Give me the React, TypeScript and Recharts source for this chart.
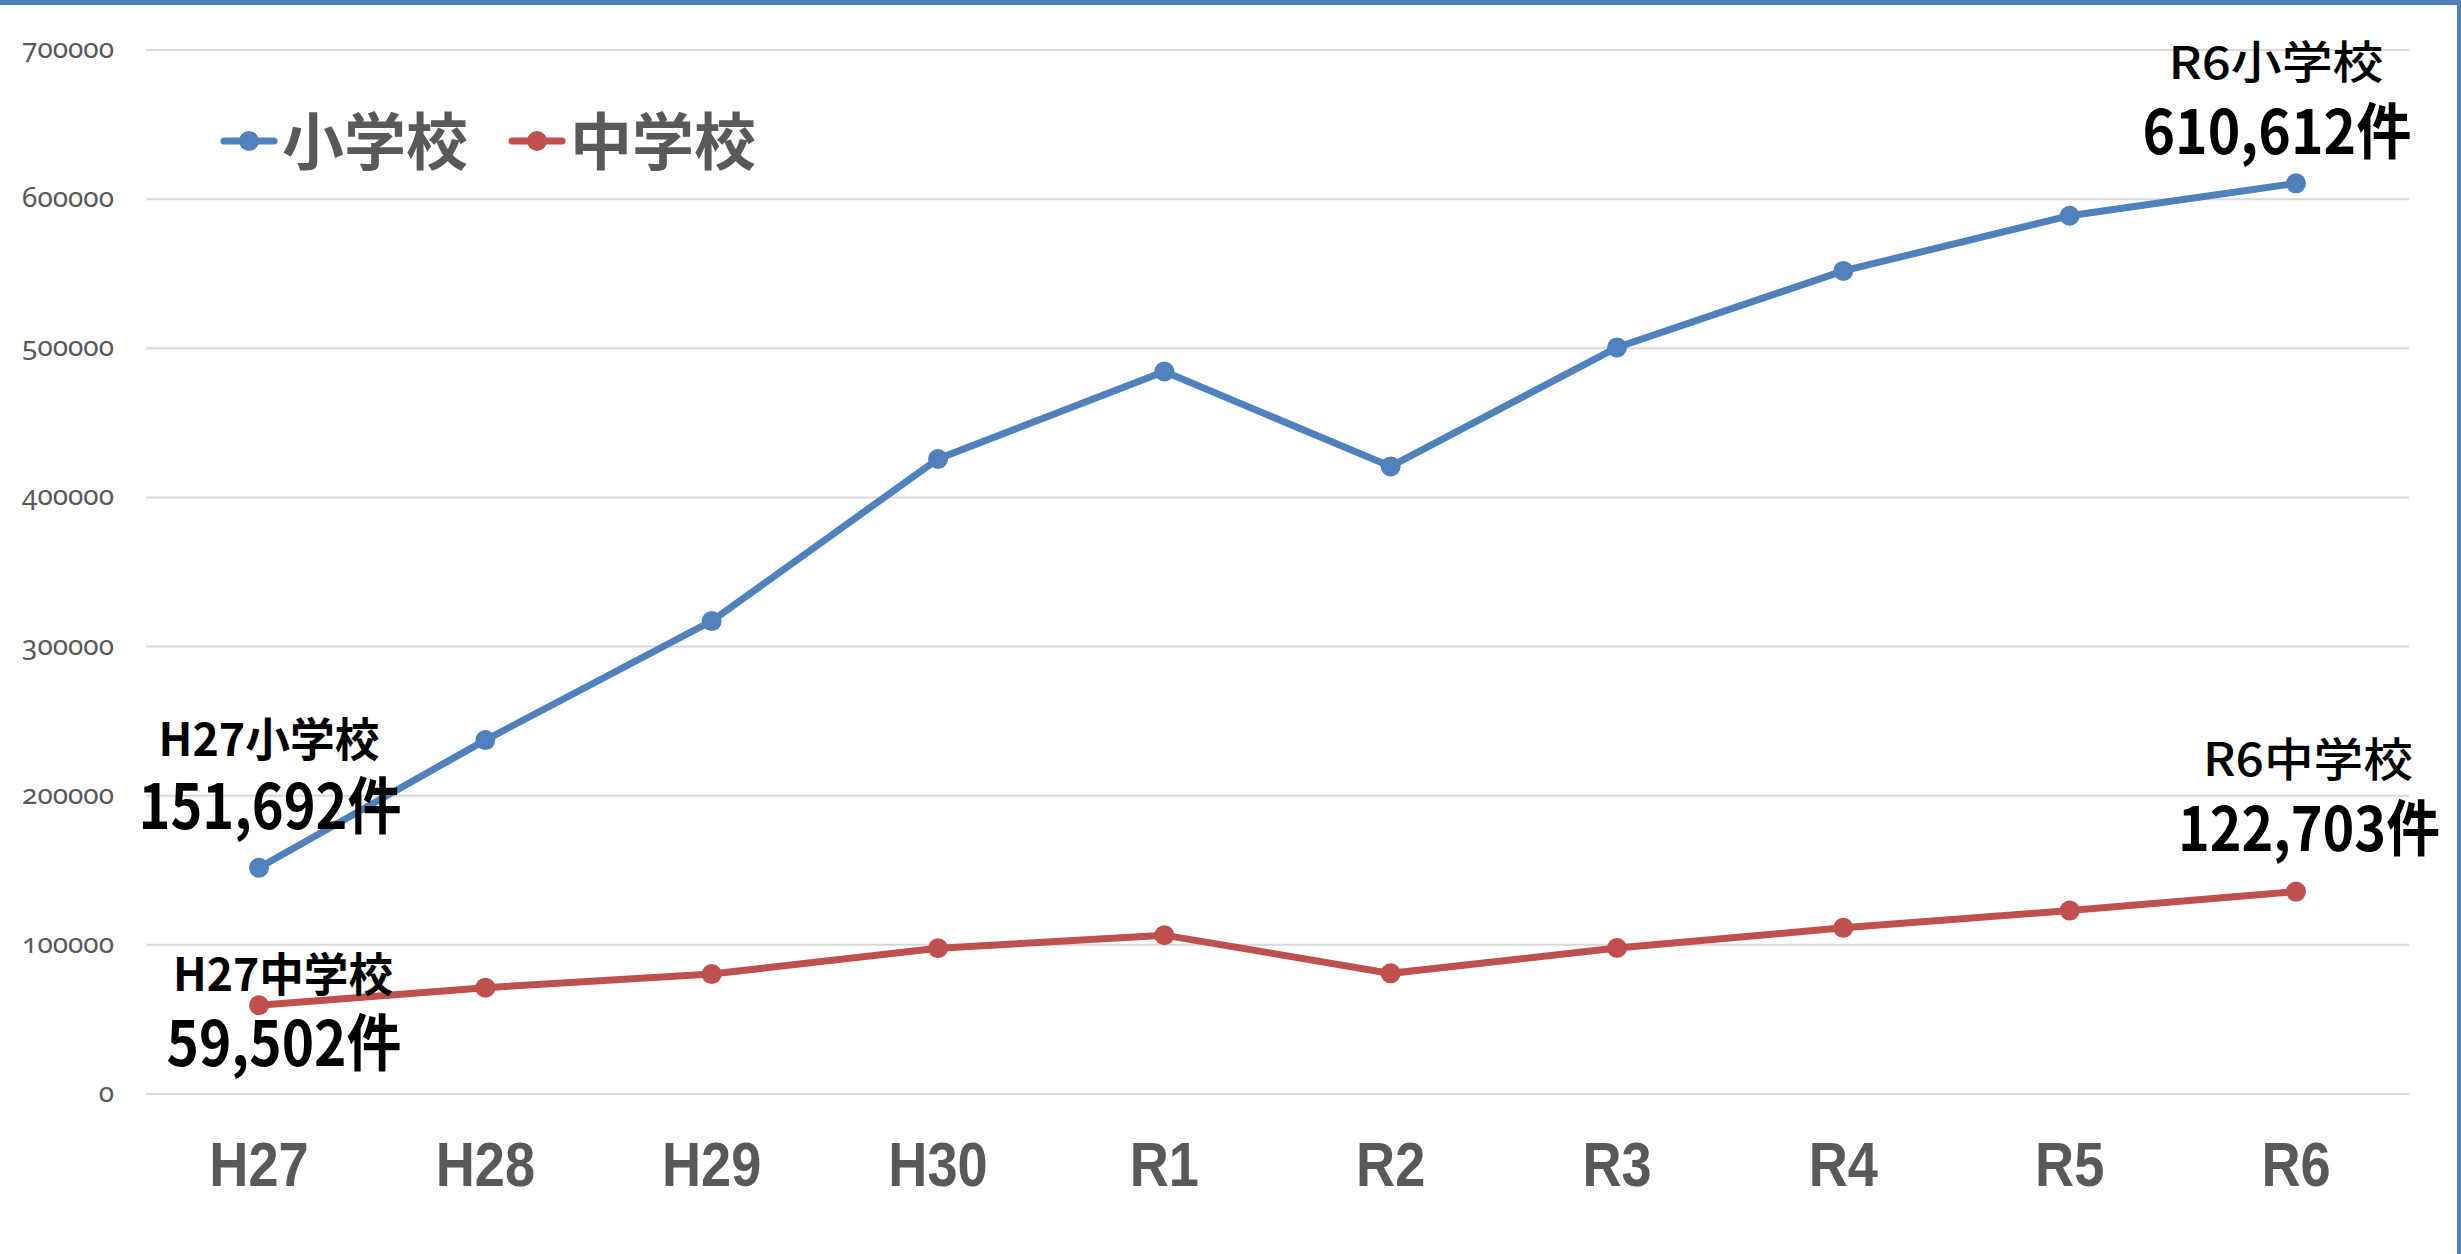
import React from "react";
import { CartesianGrid, LabelList, Legend, Line, LineChart, XAxis, YAxis } from "recharts";

const years = ["H27", "H28", "H29", "H30", "R1", "R2", "R3", "R4", "R5", "R6"];
const elementary = [151692, 237300, 317100, 425800, 484400, 420800, 500600, 551900, 588900, 610612];
const juniorHigh = [59502, 71300, 80400, 97700, 106500, 80900, 97900, 111400, 123000, 135700];
const yTicks = [0, 100000, 200000, 300000, 400000, 500000, 600000, 700000];
const seriesNames = ["小学校", "中学校"];

const elementaryNotes = { first: ["H27小学校", "151,692件"], last: ["R6小学校", "610,612件"] };
const juniorNotes = { first: ["H27中学校", "59,502件"], last: ["R6中学校", "122,703件"] };

const BLUE = "#4F81BD";
const RED = "#C0504D";
const GRAY = "#595959";
const CJK = '"Noto Sans CJK JP", "Noto Sans", sans-serif';

const data = years.map((year, i) => ({ year, elementary: elementary[i], junior: juniorHigh[i] }));

function YTick({ x, y, payload }: any) {
  return (
    <text x={x} y={y} dy={8} textAnchor="end" fill={GRAY} fontSize={28} fontFamily='"Noto Sans", sans-serif'
      style={{ fontVariantNumeric: "oldstyle-nums" }}>
      {payload.value}
    </text>
  );
}

function XTick({ x, y, payload }: any) {
  return (
    <text transform={`translate(${x},${y + 92}) scale(0.86,1)`} textAnchor="middle" fill={GRAY}
      fontSize={63} fontWeight={700} fontFamily='"Liberation Sans", Arial, sans-serif'>
      {payload.value}
    </text>
  );
}

// two-line note: small title then big count
function Note({ x, y, lines, dx, dy, widths, sizes, weight }: any) {
  return (
    <g>
      <text x={x + dx[0]} y={y + dy[0]} textAnchor="middle" fontSize={sizes[0]} fontWeight={weight}
        fontFamily={CJK} fill="#000" textLength={widths[0]} lengthAdjust="spacingAndGlyphs">
        {lines[0]}
      </text>
      <text x={x + dx[1]} y={y + dy[1]} textAnchor="middle" fontSize={sizes[1]} fontWeight={700}
        fontFamily={CJK} fill="#000" textLength={widths[1]} lengthAdjust="spacingAndGlyphs">
        {lines[1]}
      </text>
    </g>
  );
}

function elementaryLabel(props: any) {
  const { x, y, index } = props;
  if (index === 0)
    return <Note key="e0" x={x} y={y} lines={elementaryNotes.first} dx={[10, 11]} dy={[-112, -39]}
      widths={[221, 263]} sizes={[46, 62]} weight={700} />;
  if (index === years.length - 1)
    return <Note key="e9" x={x} y={y} lines={elementaryNotes.last} dx={[-20, -19]} dy={[-104, -29]}
      widths={[215, 269]} sizes={[45, 61]} weight={500} />;
  return null;
}

function juniorLabel(props: any) {
  const { x, y, index } = props;
  if (index === 0)
    return <Note key="j0" x={x} y={y} lines={juniorNotes.first} dx={[24, 25]} dy={[-14, 61]}
      widths={[220, 235]} sizes={[46, 62]} weight={700} />;
  if (index === years.length - 1)
    return <Note key="j9" x={x} y={y} lines={juniorNotes.last} dx={[12, 13]} dy={[-116, -41]}
      widths={[210, 262]} sizes={[46, 61]} weight={500} />;
  return null;
}

function renderLegend({ payload }: any) {
  const items = [...(payload || [])].sort(
    (a: any, b: any) => seriesNames.indexOf(a.value) - seriesNames.indexOf(b.value)
  );
  return (
    <div style={{ display: "flex", alignItems: "center", height: 70 }}>
      {items.map((item: any, i: number) => (
        <div key={item.value} style={{ display: "flex", alignItems: "center", marginLeft: i === 0 ? 0 : 40 }}>
          <svg width={58} height={22}>
            <line x1={4} x2={54} y1={11} y2={11} stroke={item.color} strokeWidth={7} strokeLinecap="round" />
            <circle cx={29} cy={11} r={10} fill={item.color} />
          </svg>
          <span style={{ marginLeft: 4, fontSize: 62, fontWeight: 700, color: GRAY, lineHeight: "70px",
            fontFamily: CJK, position: "relative", top: -3 }}>
            {item.value}
          </span>
        </div>
      ))}
    </div>
  );
}

export default function App() {
  return (
    <div style={{ position: "absolute", left: 0, top: 0, width: 2461, height: 1254, background: "#fff", overflow: "hidden" }}>
      <LineChart width={2461} height={1254} data={data} margin={{ top: 50, right: 52, bottom: 0, left: 0 }}>
        <CartesianGrid vertical={false} stroke="#D9D9D9" strokeWidth={2} />
        <XAxis dataKey="year" axisLine={false} tickLine={false} tickSize={0} tickMargin={0} height={160}
          padding={{ left: 113, right: 113 }} tick={<XTick />} interval={0} />
        <YAxis domain={[0, 700000]} ticks={yTicks} axisLine={false} tickLine={false} tickSize={0} tickMargin={32}
          width={146} tick={<YTick />} interval={0} />
        <Legend layout="horizontal" verticalAlign="middle" align="center" content={renderLegend}
          wrapperStyle={{ top: 106, left: 220, width: 700, height: 70 }} />
        <Line name={seriesNames[0]} dataKey="elementary" stroke={BLUE} strokeWidth={7}
          dot={{ r: 10, fill: BLUE, stroke: BLUE, strokeWidth: 0 }} activeDot={false} isAnimationActive={false}>
          <LabelList dataKey="elementary" content={elementaryLabel} />
        </Line>
        <Line name={seriesNames[1]} dataKey="junior" stroke={RED} strokeWidth={7}
          dot={{ r: 10, fill: RED, stroke: RED, strokeWidth: 0 }} activeDot={false} isAnimationActive={false}>
          <LabelList dataKey="junior" content={juniorLabel} />
        </Line>
      </LineChart>
      <div style={{ position: "absolute", left: 0, top: 0, width: 2461, height: 5, background: BLUE }} />
      <div style={{ position: "absolute", right: 0, top: 0, width: 4, height: 1254, background: BLUE }} />
    </div>
  );
}
